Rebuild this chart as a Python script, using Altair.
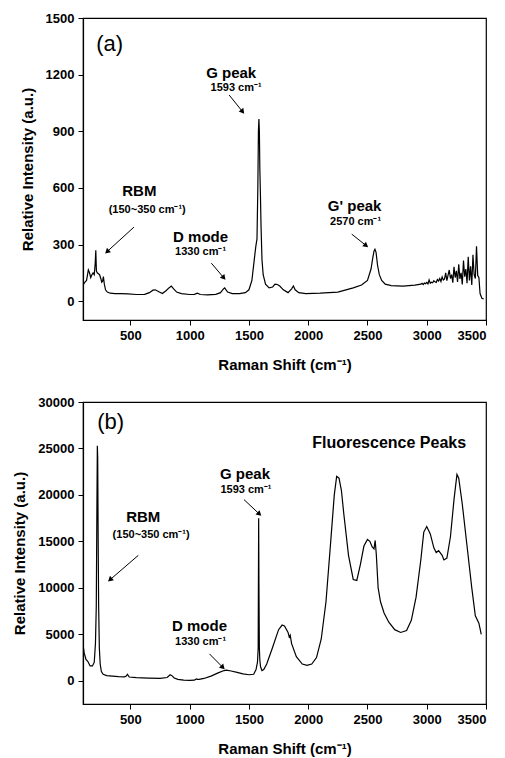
import math
import altair as alt
import pandas as pd

# ---------------- data ----------------
A_SHIFT = [100, 115, 130, 145, 155, 165, 175, 185, 195, 203, 208, 213, 220, 230, 240, 250, 258, 265, 272, 280,
           290, 305, 330, 370, 420, 480, 550, 620, 660, 690, 710, 740, 770, 800, 825, 845, 865, 890, 930, 1000,
           1040, 1065, 1090, 1150, 1220, 1260, 1285, 1295, 1320, 1360, 1420, 1470, 1500, 1525, 1545, 1558, 1568, 1575, 1580, 1584,
           1588, 1592, 1597, 1602, 1610, 1620, 1640, 1670, 1700, 1720, 1740, 1760, 1790, 1830, 1860, 1875, 1890, 1920, 1980, 2100,
           2250, 2380, 2450, 2500, 2530, 2545, 2555, 2563, 2572, 2585, 2600, 2620, 2650, 2700, 2800, 2900,
           2950, 2960, 2970, 2980, 2990, 3000, 3010, 3020, 3030, 3040, 3050, 3060, 3070, 3080, 3090, 3100, 3110, 3120, 3130, 3140,
           3150, 3160, 3170, 3180, 3190, 3200, 3210, 3220, 3230, 3240, 3250, 3260, 3270, 3280, 3290, 3300, 3310, 3320, 3330, 3340,
           3350, 3360, 3370, 3380, 3390, 3400, 3410, 3420, 3430, 3440, 3450, 3465, 3480]
A_INTENSITY = [85, 100, 110, 165, 150, 125, 140, 150, 140, 200, 270, 160, 150, 145, 140, 120, 100, 105, 130, 90,
               60, 48, 42, 40, 40, 38, 35, 36, 45, 58, 60, 50, 40, 55, 70, 80, 65, 48, 40, 35,
               36, 42, 35, 33, 36, 45, 65, 70, 48, 40, 40, 45, 60, 110, 220, 290, 330, 600, 900, 965,
               900, 700, 560, 400, 220, 140, 90, 70, 75, 90, 88, 80, 60, 45, 65, 80, 60, 45, 40, 42,
               48, 70, 85, 110, 170, 230, 265, 275, 260, 190, 140, 110, 90, 82, 80, 85,
               90, 94, 88, 96, 92, 99, 91, 112, 95, 100, 97, 108, 102, 99, 115, 106, 120, 104, 128, 112,
               118, 150, 108, 138, 165, 120, 140, 98, 182, 125, 160, 102, 195, 118, 150, 88, 215, 130, 170, 95,
               235, 110, 185, 85, 245, 140, 120, 290, 135, 125, 40, 15, 12]

B_SHIFT = [100, 110, 125, 140, 160, 180, 195, 205, 212, 217, 221, 224, 228, 232, 238, 245, 255, 270, 300, 350,
           400, 450, 465, 475, 490, 550, 650, 750, 810, 835, 850, 870, 900, 950, 1000, 1040, 1055, 1065, 1080, 1120,
           1180, 1240, 1290, 1310, 1350, 1400, 1450, 1500, 1540, 1560, 1572, 1578, 1582, 1585, 1588, 1592, 1598, 1610, 1625, 1650,
           1700, 1750, 1780, 1800, 1830, 1840, 1848, 1860, 1900, 1950, 1990, 2030, 2070, 2110, 2150, 2190, 2220, 2240, 2260, 2280,
           2300, 2340, 2380, 2410, 2440, 2470, 2500, 2520, 2540, 2555, 2565, 2575, 2590, 2610, 2640, 2680, 2730, 2780, 2830, 2870,
           2910, 2950, 2975, 3000, 3030, 3060, 3080, 3100, 3130, 3145, 3170, 3200, 3230, 3255, 3270, 3300, 3340, 3380, 3410, 3440,
           3460]
B_INTENSITY = [3900, 3000, 2300, 2100, 1600, 1600, 2000, 4000, 8000, 18000, 25300, 24000, 15000, 8000, 3500, 1800, 1000, 700, 550, 500,
               450, 430, 500, 700, 400, 330, 280, 250, 350, 650, 550, 300, 150, 70, 40, 60, 200, 150, 150, 250,
               500, 850, 1100, 1150, 1050, 900, 750, 650, 700, 1200, 2000, 3500, 17500, 9000, 3500, 2200, 1500, 1100, 1200, 1800,
               3600, 5500, 6000, 5900, 5200, 4700, 4900, 4000, 2600, 1800, 1650, 1800, 2500, 4500, 8500, 15000, 20000, 22000, 21800, 20500,
               18000, 13500, 10900, 10800, 12500, 14500, 15200, 15000, 14400, 14200, 15100, 13500, 10000, 8500, 7300, 6300, 5500, 5200, 5400, 6500,
               9000, 13000, 16000, 16600, 15800, 14300, 13800, 14000, 13500, 13000, 13200, 15500, 19500, 22200, 21800, 19000, 14500, 10000, 7000, 6200,
               5000]

X_TICKS = [500, 1000, 1500, 2000, 2500, 3000, 3500]
A_Y_TICKS = [0, 300, 600, 900, 1200, 1500]
B_Y_TICKS = [0, 5000, 10000, 15000, 20000, 25000, 30000]
X_DOMAIN = [100, 3500]
A_Y_DOMAIN = [-100, 1500]
B_Y_DOMAIN = [-2500, 30000]

A_TITLE_LABELS = ["RBM", "D mode", "G peak", "G' peak"]
A_TITLE_X = [575, 1092, 1350, 2392]
A_TITLE_Y = [583, 339, 1208, 503]
A_SUB_LABELS = ["(150~350 cm⁻¹)", "1330 cm⁻¹", "1593 cm⁻¹", "2570 cm⁻¹"]
A_SUB_X = [642, 1092, 1392, 2400]
A_SUB_Y = [482, 260, 1129, 419]
A_ARROW_X = [530, 1183, 1333, 2367]
A_ARROW_Y = [392, 201, 1092, 355]
A_ARROW_X2 = [308, 1283, 1442, 2483]
A_ARROW_Y2 = [265, 127, 1007, 297]

B_TITLE_LABELS = ["RBM", "D mode", "G peak"]
B_TITLE_X = [608, 1083, 1467]
B_TITLE_Y = [17580, 5900, 22300]
B_SUB_LABELS = ["(150~350 cm⁻¹)", "1330 cm⁻¹", "1593 cm⁻¹"]
B_SUB_X = [675, 1092, 1475]
B_SUB_Y = [15650, 4180, 20580]
B_ARROW_X = [567, 1167, 1458]
B_ARROW_Y = [13500, 2890, 19500]
B_ARROW_X2 = [333, 1275, 1583]
B_ARROW_Y2 = [10930, 1500, 18000]
B_BIG_LABEL = ["Fluorescence Peaks"]
B_BIG_X = [2683]
B_BIG_Y = [25600]

PANEL_LABELS = ["(a)", "(b)"]
PANEL_X = [325, 333]
PANEL_Y = [1362, 27870]

W = 403
H = 302
FONT = "Liberation Sans"


def panel(shift, inten, ydom, yticks, titles, subs, arrows, plabel, extra=None):
    xs = alt.Scale(domain=X_DOMAIN, nice=False, zero=False)
    ys = alt.Scale(domain=ydom, nice=False, zero=False)
    xa = alt.Axis(values=X_TICKS, format="d", title="Raman Shift (cm⁻¹)", titlePadding=15)
    ya = alt.Axis(values=yticks, format="d", title="Relative Intensity (a.u.)", titlePadding=10)
    df = pd.DataFrame({"shift": shift, "intensity": inten})
    line = alt.Chart(df).mark_line(color="black", strokeWidth=1.2, clip=True).encode(
        x=alt.X("shift:Q", scale=xs, axis=xa),
        y=alt.Y("intensity:Q", scale=ys, axis=ya),
    )
    tdf = pd.DataFrame({"label": titles[0], "x": titles[1], "y": titles[2]})
    t1 = alt.Chart(tdf).mark_text(font=FONT, fontSize=15, fontWeight="bold", color="black").encode(
        x=alt.X("x:Q", scale=xs), y=alt.Y("y:Q", scale=ys), text="label:N")
    sdf = pd.DataFrame({"label": subs[0], "x": subs[1], "y": subs[2]})
    t2 = alt.Chart(sdf).mark_text(font=FONT, fontSize=11, fontWeight="bold", color="black").encode(
        x=alt.X("x:Q", scale=xs), y=alt.Y("y:Q", scale=ys), text="label:N")
    sx = W / (X_DOMAIN[1] - X_DOMAIN[0])
    sy = H / (ydom[1] - ydom[0])
    angles = []
    for x1, y1, x2, y2 in zip(*arrows):
        dxs = (x2 - x1) * sx
        dys = -(y2 - y1) * sy
        angles.append(math.degrees(math.atan2(dxs, -dys)) % 360)
    adf = pd.DataFrame({"x": arrows[0], "y": arrows[1], "x2": arrows[2], "y2": arrows[3], "ang": angles})
    rule = alt.Chart(adf).mark_rule(color="black", strokeWidth=1).encode(
        x=alt.X("x:Q", scale=xs), y=alt.Y("y:Q", scale=ys), x2="x2:Q", y2="y2:Q")
    head = alt.Chart(adf).mark_point(shape="triangle", filled=True, color="black", opacity=1, size=35).encode(
        x=alt.X("x2:Q", scale=xs), y=alt.Y("y2:Q", scale=ys), angle=alt.Angle("ang:Q", scale=None))
    pdf = pd.DataFrame({"label": [plabel[0]], "x": [plabel[1]], "y": [plabel[2]]})
    t3 = alt.Chart(pdf).mark_text(font=FONT, fontSize=22, color="black").encode(
        x=alt.X("x:Q", scale=xs), y=alt.Y("y:Q", scale=ys), text="label:N")
    layers = [line, t1, t2, rule, head, t3]
    if extra is not None:
        edf = pd.DataFrame({"label": extra[0], "x": extra[1], "y": extra[2]})
        layers.append(alt.Chart(edf).mark_text(font=FONT, fontSize=16, fontWeight="bold", color="black").encode(
            x=alt.X("x:Q", scale=xs), y=alt.Y("y:Q", scale=ys), text="label:N"))
    return alt.layer(*layers).properties(width=W, height=H)


pa = panel(A_SHIFT, A_INTENSITY, A_Y_DOMAIN, A_Y_TICKS,
           (A_TITLE_LABELS, A_TITLE_X, A_TITLE_Y), (A_SUB_LABELS, A_SUB_X, A_SUB_Y),
           (A_ARROW_X, A_ARROW_Y, A_ARROW_X2, A_ARROW_Y2),
           (PANEL_LABELS[0], PANEL_X[0], PANEL_Y[0]))
pb = panel(B_SHIFT, B_INTENSITY, B_Y_DOMAIN, B_Y_TICKS,
           (B_TITLE_LABELS, B_TITLE_X, B_TITLE_Y), (B_SUB_LABELS, B_SUB_X, B_SUB_Y),
           (B_ARROW_X, B_ARROW_Y, B_ARROW_X2, B_ARROW_Y2),
           (PANEL_LABELS[1], PANEL_X[1], PANEL_Y[1]),
           extra=(B_BIG_LABEL, B_BIG_X, B_BIG_Y))

chart = alt.vconcat(pa, pb, spacing=22).properties(
    padding={"left": 4, "top": 3, "right": 5, "bottom": 0},
    background="white",
).configure_view(
    stroke="black", strokeWidth=1.2
).configure_axis(
    grid=False, domainColor="black", tickColor="black", labelColor="black", titleColor="black",
    labelFont=FONT, titleFont=FONT, labelFontSize=13, labelFontWeight="bold",
    titleFontSize=15, titleFontWeight="bold", tickSize=5, labelPadding=4, domainWidth=1.2
)

chart.save("out.html", embed_options={"renderer": "svg", "actions": False})
